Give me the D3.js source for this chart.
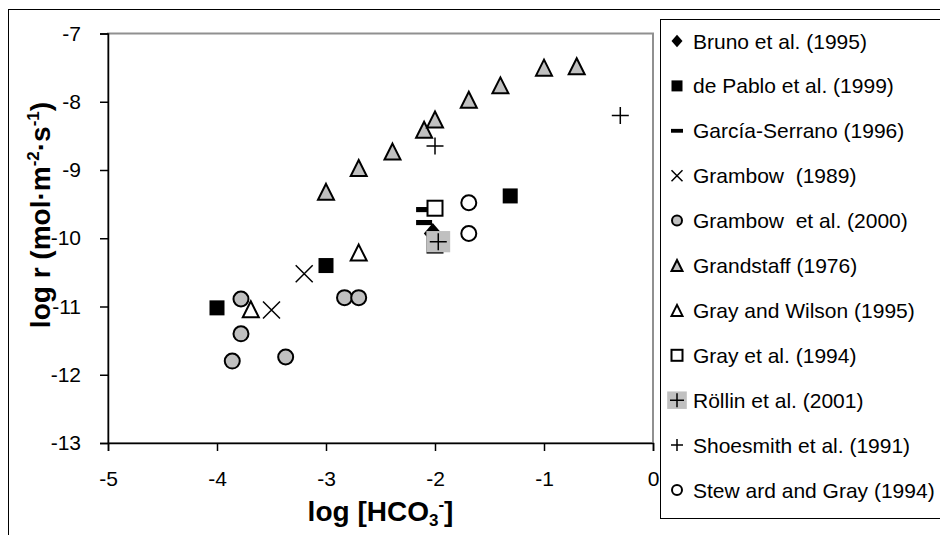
<!DOCTYPE html>
<html lang="en">
<head>
<meta charset="utf-8">
<title>log r vs log HCO3</title>
<script src="https://cdn.jsdelivr.net/npm/d3@7"></script>
<style>
  body { margin: 0; background: #fff; }
  svg text { font-family: Arial, "Liberation Sans", sans-serif; fill: #000; }
  .axis path, .axis line { stroke: #000; stroke-width: 1.5px; }
  .axis text { font-size: 21px; }
  .title { font-size: 28px; font-weight: bold; }
  .legend text { font-size: 21px; }
</style>
</head>
<body>
<script>
// series names, in drawing order
var seriesNames = ["Bruno et al. (1995)", "de Pablo et al. (1999)", "García-Serrano (1996)",
  "Grambow  (1989)", "Grambow  et al. (2000)", "Grandstaff (1976)", "Gray and Wilson (1995)",
  "Gray et al. (1994)", "Röllin et al. (2001)", "Shoesmith et al. (1991)", "Stew ard and Gray (1994)"];

// [log HCO3, log r] per series
var bruno = [[-2.02, -9.93]];
var dePablo = [[-4.0, -11.02], [-3.0, -10.40], [-1.31, -9.38]];
var garciaSerrano = [[-2.1, -9.58], [-2.1, -9.77]];
var grambow89 = [[-3.5, -11.05], [-3.2, -10.52]];
var grambow00 = [[-3.78, -10.89], [-3.78, -11.40], [-3.86, -11.80], [-3.37, -11.74], [-2.83, -10.87], [-2.70, -10.87]];
var grandstaff = [[-3.0, -9.32], [-2.7, -8.97], [-2.39, -8.73], [-2.10, -8.41], [-2.0, -8.26],
  [-1.69, -7.97], [-1.40, -7.76], [-1.0, -7.50], [-0.70, -7.48]];
var grayWilson = [[-3.69, -11.04], [-2.70, -10.21]];
var grayEtAl = [[-2.0, -9.56], [-2.0, -10.1]];
var rollin = [[-1.97, -10.05]];
var shoesmith = [[-2.0, -8.65], [-0.30, -8.20]];
var steward = [[-1.69, -9.48], [-1.69, -9.93]];

var xTicks = [-5, -4, -3, -2, -1, 0];
var yTicks = [-13, -12, -11, -10, -9, -8, -7];

var seriesData = [bruno, dePablo, garciaSerrano, grambow89, grambow00, grandstaff,
  grayWilson, grayEtAl, rollin, shoesmith, steward];

// marker look for each series
var markerStyle = [
  {type: "diamond", fill: "#000"},
  {type: "square", fill: "#000"},
  {type: "dash", fill: "#000"},
  {type: "x"},
  {type: "circle", fill: "#c0c0c0"},
  {type: "triangle", fill: "#c0c0c0"},
  {type: "triangle", fill: "#fff"},
  {type: "square", fill: "#fff", stroke: true},
  {type: "rollin"},
  {type: "plus"},
  {type: "circle", fill: "#fff"}
];

var width = 940, height = 535;
var plot = {left: 108, right: 653, top: 33.5, bottom: 443};

var svg = d3.select("body").append("svg")
  .attr("width", width)
  .attr("height", height);

// chart frame
svg.append("rect")
  .attr("x", 8.5).attr("y", 9.5)
  .attr("width", 1000).attr("height", 1000)
  .attr("fill", "none").attr("stroke", "#000");

var x = d3.scaleLinear().domain([-5, 0]).range([plot.left, plot.right]);
var y = d3.scaleLinear().domain([-13, -7]).range([plot.bottom, plot.top]);

// plot area border
svg.append("rect")
  .attr("x", plot.left).attr("y", plot.top)
  .attr("width", plot.right - plot.left).attr("height", plot.bottom - plot.top)
  .attr("fill", "none").attr("stroke", "#909090").attr("stroke-width", 2);

svg.append("g")
  .attr("class", "axis")
  .attr("transform", "translate(0," + plot.bottom + ")")
  .call(d3.axisBottom(x).tickValues(xTicks).tickSize(8).tickPadding(20)
    .tickFormat(function(d){ return String(d); }));

svg.append("g")
  .attr("class", "axis")
  .attr("transform", "translate(" + plot.left + ",0)")
  .call(d3.axisLeft(y).tickValues(yTicks).tickSize(8).tickPadding(19)
    .tickFormat(function(d){ return String(d); }));

// axis titles
var xt = svg.append("text").attr("class", "title")
  .attr("x", (plot.left + plot.right) / 2).attr("y", 521)
  .attr("text-anchor", "middle");
xt.append("tspan").text("log [HCO");
xt.append("tspan").attr("font-size", 17).attr("dy", 5).text("3");
xt.append("tspan").attr("font-size", 17).attr("dy", -16).text("-");
xt.append("tspan").attr("dy", 11).text("]");

var yt = svg.append("text").attr("class", "title")
  .attr("transform", "translate(50,215) rotate(-90)")
  .attr("text-anchor", "middle");
yt.append("tspan").text("log r (mol·m");
yt.append("tspan").attr("font-size", 17).attr("dy", -11).text("-2");
yt.append("tspan").attr("dy", 11).text("·s");
yt.append("tspan").attr("font-size", 17).attr("dy", -11).text("-1");
yt.append("tspan").attr("dy", 11).text(")");

function drawMarker(g, st, s) {
  var h = s / 2;
  if (st.type === "diamond") {
    g.append("path").attr("d", "M0," + (-h * 1.15) + "L" + h + ",0L0," + (h * 1.15) + "L" + (-h) + ",0Z")
      .attr("fill", st.fill);
  } else if (st.type === "square") {
    g.append("rect").attr("x", -h).attr("y", -h).attr("width", s).attr("height", s)
      .attr("fill", st.fill).attr("stroke", "#000").attr("stroke-width", st.stroke ? 2 : 0);
  } else if (st.type === "dash") {
    g.append("rect").attr("x", -h).attr("y", -s * 0.16).attr("width", s).attr("height", s * 0.32)
      .attr("fill", st.fill);
  } else if (st.type === "x") {
    g.append("path").attr("d", "M" + (-h) + "," + (-h) + "L" + h + "," + h + "M" + h + "," + (-h) + "L" + (-h) + "," + h)
      .attr("stroke", "#000").attr("stroke-width", 1.5);
  } else if (st.type === "circle") {
    g.append("circle").attr("r", h - 1).attr("fill", st.fill)
      .attr("stroke", "#000").attr("stroke-width", 2);
  } else if (st.type === "triangle") {
    g.append("path").attr("d", "M0," + (-h) + "L" + h + "," + h + "L" + (-h) + "," + h + "Z")
      .attr("fill", st.fill).attr("stroke", "#000").attr("stroke-width", 2)
      .attr("stroke-linejoin", "miter");
  } else if (st.type === "rollin") {
    var w = s * 1.4, hh = s * 1.25;
    g.append("rect").attr("x", -w / 2).attr("y", -hh / 2).attr("width", w).attr("height", hh)
      .attr("fill", "#c0c0c0");
    g.append("path").attr("d", "M" + (-h) + ",0L" + h + ",0M0," + (-h) + "L0," + h)
      .attr("stroke", "#000").attr("stroke-width", 1.5);
  } else if (st.type === "plus") {
    g.append("path").attr("d", "M" + (-h) + ",0L" + h + ",0M0," + (-h) + "L0," + h)
      .attr("stroke", "#000").attr("stroke-width", 1.5);
  }
}

var plotSizes = {diamond: 18, square: 15, dash: 16, x: 17, circle: 17, triangle: 16, rollin: 17, plus: 17};
var legendSizes = {diamond: 11, square: 11, dash: 12, x: 11, circle: 12, triangle: 11, rollin: 14, plus: 12};

seriesData.forEach(function(pts, i) {
  var st = markerStyle[i];
  svg.append("g").selectAll("g")
    .data(pts)
    .enter().append("g")
    .attr("transform", function(d){ return "translate(" + x(d[0]) + "," + y(d[1]) + ")"; })
    .each(function(){ drawMarker(d3.select(this), st, plotSizes[st.type]); });
});

// legend
var legend = svg.append("g").attr("class", "legend");
legend.append("rect")
  .attr("x", 660.5).attr("y", 19.5).attr("width", 400).attr("height", 499)
  .attr("fill", "#fff").attr("stroke", "#000");

var rows = legend.selectAll("g.row")
  .data(seriesNames)
  .enter().append("g")
  .attr("class", "row")
  .attr("transform", function(d, i){ return "translate(0," + (41 + i * 44.9) + ")"; });

rows.each(function(d, i) {
  var st = markerStyle[i];
  var m = d3.select(this).append("g").attr("transform", "translate(677,0)");
  var ls = legendSizes[st.type];
  drawMarker(m, st, ls);
  d3.select(this).append("text")
    .attr("x", 693).attr("y", 0).attr("dy", "0.36em")
    .attr("xml:space", "preserve")
    .text(d);
});
</script>
</body>
</html>
